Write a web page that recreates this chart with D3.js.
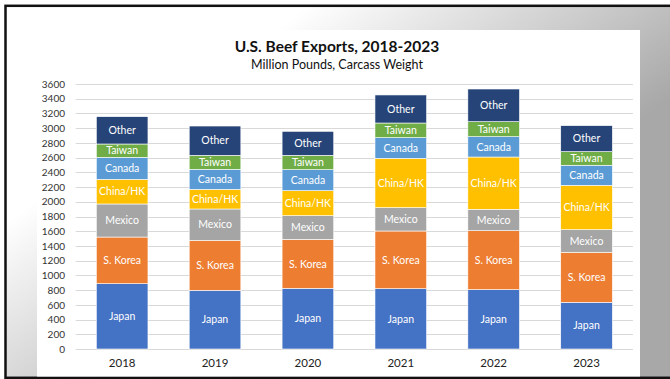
<!DOCTYPE html>
<html>
<head>
<meta charset="utf-8">
<script src="https://cdn.jsdelivr.net/npm/d3@7"></script>
<style>
  html, body { margin: 0; padding: 0; background: #ffffff; }
  svg { display: block; }
  text { font-family: Lato, "Open Sans", sans-serif; }
</style>
</head>
<body>
<svg id="chart" width="670" height="379"></svg>
<script>
// U.S. beef exports by destination, million pounds (carcass weight)
const years = ["2018", "2019", "2020", "2021", "2022", "2023"];
const markets = ["Japan", "S. Korea", "Mexico", "China/HK", "Canada", "Taiwan", "Other"];
const japan   = [887, 797, 824, 819, 806, 634];
const korea   = [634, 679, 666, 784, 801, 680];
const mexico  = [449, 426, 321, 317, 291, 307];
const china   = [335, 267, 340, 670, 710, 603];
const canada  = [299, 272, 285, 281, 276, 272];
const taiwan  = [181, 190, 195, 199, 204, 185];
const other   = [371, 398, 326, 381, 444, 353];
const yTicks  = d3.range(0, 3601, 200);
const colors  = ["#4472C4", "#ED7D31", "#A5A5A5", "#FFC000", "#5B9BD5", "#70AD47", "#264478"];

const seriesValues = [japan, korea, mexico, china, canada, taiwan, other];
const rows = years.map((y, i) => {
  const r = { year: y };
  markets.forEach((m, k) => { r[m] = seriesValues[k][i]; });
  return r;
});
const stacked = d3.stack().keys(markets)(rows);

const svg = d3.select("#chart");
const defs = svg.append("defs");

// slide background: white in the upper left fading to grey
const grad = defs.append("linearGradient")
  .attr("id", "bg").attr("gradientUnits", "userSpaceOnUse")
  .attr("x1", 107).attr("y1", 150).attr("x2", 273).attr("y2", 382);
grad.append("stop").attr("offset", 0).attr("stop-color", "#ffffff");
grad.append("stop").attr("offset", 1).attr("stop-color", "#a8a8a8");

svg.append("rect").attr("x", 5.5).attr("y", 5.8).attr("width", 700).attr("height", 372)
  .attr("fill", "url(#bg)").attr("stroke", "#111").attr("stroke-width", 2.5);

// white chart panel
svg.append("rect").attr("x", 37).attr("y", 30).attr("width", 603).attr("height", 346.5)
  .attr("fill", "#ffffff");

const x = d3.scaleBand().domain(years).range([75.7, 633]).paddingInner(0.444).paddingOuter(0.222);
const y = d3.scaleLinear().domain([0, 3600]).range([349, 84]);

// gridlines
svg.append("g").selectAll("line").data(yTicks).join("line")
  .attr("x1", 75.7).attr("x2", 633)
  .attr("y1", d => Math.round(y(d)) + 0.5).attr("y2", d => Math.round(y(d)) + 0.5)
  .attr("stroke", "#d9d9d9").attr("stroke-width", 1);

// y axis labels
const yAxis = d3.axisLeft(y).tickValues(yTicks).tickSize(0).tickPadding(0).tickFormat(d3.format("d"));
const gy = svg.append("g").attr("transform", "translate(65,0)").call(yAxis);
gy.select(".domain").remove();
gy.selectAll("text").attr("font-size", 10).attr("fill", "#333").attr("font-family", "Lato, sans-serif");

// x axis labels
const xAxis = d3.axisBottom(x).tickSize(0).tickPadding(0);
const gx = svg.append("g").attr("transform", "translate(0,359)").call(xAxis);
gx.select(".domain").remove();
gx.selectAll("text").attr("font-size", 11.5).attr("fill", "#222").attr("font-family", "Lato, sans-serif");

// stacked bars
const layers = svg.append("g").selectAll("g").data(stacked).join("g")
  .attr("fill", (d, i) => colors[i]);
layers.selectAll("rect").data(d => d).join("rect")
  .attr("x", d => x(d.data.year))
  .attr("width", x.bandwidth())
  .attr("y", d => y(d[1]))
  .attr("height", d => y(d[0]) - y(d[1]))
  .attr("stroke", "#ffffff").attr("stroke-width", 0.6);

// segment labels
layers.each(function(layer) {
  d3.select(this).selectAll("text").data(layer).join("text")
    .attr("x", d => x(d.data.year) + x.bandwidth() / 2)
    .attr("y", d => (y(d[0]) + y(d[1])) / 2)
    .attr("dy", "0.35em")
    .attr("text-anchor", "middle")
    .attr("font-size", 10.5)
    .attr("fill", "#ffffff")
    .text(layer.key);
});

// titles
svg.append("text").attr("x", 337).attr("y", 52).attr("text-anchor", "middle")
  .attr("font-size", 15.5).attr("font-weight", "bold").attr("fill", "#111")
  .text("U.S. Beef Exports, 2018-2023");
svg.append("text").attr("x", 337).attr("y", 69).attr("text-anchor", "middle")
  .attr("font-size", 12.5).attr("fill", "#111")
  .text("Million Pounds, Carcass Weight");
</script>
</body>
</html>
